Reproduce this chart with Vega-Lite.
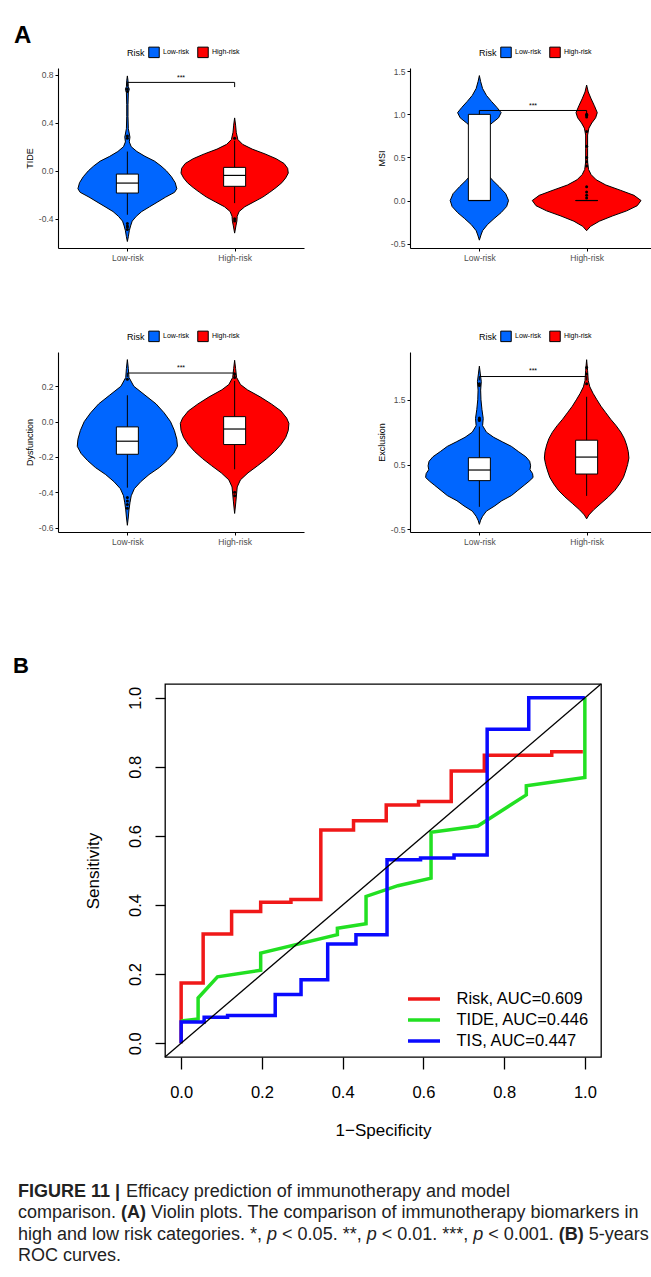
{
 "$schema": "https://vega.github.io/schema/vega-lite/v6.json",
 "autosize": {"type": "pad"},
 "padding": {"left": 12, "top": 24, "right": 0, "bottom": 0},
 "background": "white",
 "config": {
  "view": {"stroke": null},
  "font": "Liberation Sans",
  "axis": {"grid": false, "domainColor": "black", "domainWidth": 1.1, "tickColor": "black", "tickWidth": 1, "tickSize": 3, "labelColor": "#4D4D4D", "labelFontSize": 8.5, "labelPadding": 2, "titleColor": "black", "titleFontWeight": "normal", "titleFontSize": 9, "titlePadding": 4},
  "text": {"font": "Liberation Sans"}
 },
 "datasets": {
  "tideV": [
   {"g":"Low-risk","y":0.79,"lo":1,"hi":1},{"g":"Low-risk","y":0.75,"lo":0.994,"hi":1.006},{"g":"Low-risk","y":0.70,"lo":0.991,"hi":1.009},{"g":"Low-risk","y":0.68,"lo":0.982,"hi":1.018},{"g":"Low-risk","y":0.65,"lo":0.991,"hi":1.009},{"g":"Low-risk","y":0.55,"lo":0.994,"hi":1.006},{"g":"Low-risk","y":0.45,"lo":0.994,"hi":1.006},{"g":"Low-risk","y":0.35,"lo":0.991,"hi":1.009},{"g":"Low-risk","y":0.28,"lo":0.976,"hi":1.024},{"g":"Low-risk","y":0.24,"lo":0.982,"hi":1.018},{"g":"Low-risk","y":0.20,"lo":0.964,"hi":1.036},{"g":"Low-risk","y":0.16,"lo":0.911,"hi":1.089},{"g":"Low-risk","y":0.12,"lo":0.836,"hi":1.164},{"g":"Low-risk","y":0.08,"lo":0.747,"hi":1.253},{"g":"Low-risk","y":0.04,"lo":0.687,"hi":1.313},{"g":"Low-risk","y":0.0,"lo":0.637,"hi":1.363},{"g":"Low-risk","y":-0.05,"lo":0.589,"hi":1.411},{"g":"Low-risk","y":-0.10,"lo":0.554,"hi":1.446},{"g":"Low-risk","y":-0.15,"lo":0.539,"hi":1.461},{"g":"Low-risk","y":-0.18,"lo":0.560,"hi":1.440},{"g":"Low-risk","y":-0.22,"lo":0.643,"hi":1.357},{"g":"Low-risk","y":-0.26,"lo":0.717,"hi":1.283},{"g":"Low-risk","y":-0.30,"lo":0.792,"hi":1.208},{"g":"Low-risk","y":-0.34,"lo":0.866,"hi":1.134},{"g":"Low-risk","y":-0.38,"lo":0.917,"hi":1.083},{"g":"Low-risk","y":-0.42,"lo":0.955,"hi":1.045},{"g":"Low-risk","y":-0.46,"lo":0.970,"hi":1.030},{"g":"Low-risk","y":-0.50,"lo":0.982,"hi":1.018},{"g":"Low-risk","y":-0.55,"lo":0.991,"hi":1.009},{"g":"Low-risk","y":-0.59,"lo":1,"hi":1},
   {"g":"High-risk","y":0.44,"lo":2,"hi":2},{"g":"High-risk","y":0.38,"lo":1.991,"hi":2.009},{"g":"High-risk","y":0.32,"lo":1.985,"hi":2.015},{"g":"High-risk","y":0.26,"lo":1.970,"hi":2.030},{"g":"High-risk","y":0.22,"lo":1.926,"hi":2.074},{"g":"High-risk","y":0.18,"lo":1.836,"hi":2.164},{"g":"High-risk","y":0.14,"lo":1.717,"hi":2.283},{"g":"High-risk","y":0.10,"lo":1.613,"hi":2.387},{"g":"High-risk","y":0.06,"lo":1.539,"hi":2.461},{"g":"High-risk","y":0.02,"lo":1.506,"hi":2.494},{"g":"High-risk","y":-0.02,"lo":1.500,"hi":2.500},{"g":"High-risk","y":-0.06,"lo":1.524,"hi":2.476},{"g":"High-risk","y":-0.10,"lo":1.560,"hi":2.440},{"g":"High-risk","y":-0.14,"lo":1.613,"hi":2.387},{"g":"High-risk","y":-0.18,"lo":1.673,"hi":2.327},{"g":"High-risk","y":-0.22,"lo":1.738,"hi":2.262},{"g":"High-risk","y":-0.26,"lo":1.821,"hi":2.179},{"g":"High-risk","y":-0.30,"lo":1.905,"hi":2.095},{"g":"High-risk","y":-0.34,"lo":1.958,"hi":2.042},{"g":"High-risk","y":-0.38,"lo":1.976,"hi":2.024},{"g":"High-risk","y":-0.42,"lo":1.979,"hi":2.021},{"g":"High-risk","y":-0.46,"lo":1.988,"hi":2.012},{"g":"High-risk","y":-0.52,"lo":2,"hi":2}
  ],
  "tideB": [{"cat":1,"q1":-0.186,"med":-0.103,"q3":-0.028,"lo":-0.367,"hi":0.16},{"cat":2,"q1":-0.13,"med":-0.039,"q3":0.028,"lo":-0.27,"hi":0.25}],
  "tideO": [{"cat":1,"y":0.27},{"cat":1,"y":0.29},{"cat":1,"y":0.66},{"cat":1,"y":0.68},{"cat":1,"y":-0.44},{"cat":1,"y":-0.46},{"cat":1,"y":-0.47},{"cat":1,"y":-0.49},{"cat":2,"y":-0.40},{"cat":2,"y":-0.42},{"cat":2,"y":0.27}],
  "tideS": [{"x1":1,"x2":2,"y1":0.736,"y2":0.736},{"x1":1,"x2":1,"y1":0.736,"y2":0.70},{"x1":2,"x2":2,"y1":0.736,"y2":0.697}],
  "tideT": [{"x":1.5,"y":0.775,"t":"***"}],
  "msiV": [
   {"g":"Low-risk","y":1.45,"lo":1,"hi":1},{"g":"Low-risk","y":1.38,"lo":0.988,"hi":1.012},{"g":"Low-risk","y":1.30,"lo":0.970,"hi":1.030},{"g":"Low-risk","y":1.22,"lo":0.934,"hi":1.066},{"g":"Low-risk","y":1.15,"lo":0.887,"hi":1.113},{"g":"Low-risk","y":1.08,"lo":0.836,"hi":1.164},{"g":"Low-risk","y":1.02,"lo":0.797,"hi":1.203},{"g":"Low-risk","y":0.96,"lo":0.821,"hi":1.179},{"g":"Low-risk","y":0.90,"lo":0.881,"hi":1.119},{"g":"Low-risk","y":0.84,"lo":0.934,"hi":1.066},{"g":"Low-risk","y":0.78,"lo":0.964,"hi":1.036},{"g":"Low-risk","y":0.70,"lo":0.976,"hi":1.024},{"g":"Low-risk","y":0.60,"lo":0.982,"hi":1.018},{"g":"Low-risk","y":0.50,"lo":0.982,"hi":1.018},{"g":"Low-risk","y":0.40,"lo":0.970,"hi":1.030},{"g":"Low-risk","y":0.32,"lo":0.934,"hi":1.066},{"g":"Low-risk","y":0.24,"lo":0.881,"hi":1.119},{"g":"Low-risk","y":0.16,"lo":0.815,"hi":1.185},{"g":"Low-risk","y":0.08,"lo":0.755,"hi":1.245},{"g":"Low-risk","y":0.0,"lo":0.728,"hi":1.272},{"g":"Low-risk","y":-0.07,"lo":0.746,"hi":1.254},{"g":"Low-risk","y":-0.14,"lo":0.797,"hi":1.203},{"g":"Low-risk","y":-0.21,"lo":0.863,"hi":1.137},{"g":"Low-risk","y":-0.28,"lo":0.925,"hi":1.075},{"g":"Low-risk","y":-0.35,"lo":0.970,"hi":1.030},{"g":"Low-risk","y":-0.40,"lo":0.985,"hi":1.015},{"g":"Low-risk","y":-0.46,"lo":1,"hi":1},
   {"g":"High-risk","y":1.34,"lo":2,"hi":2},{"g":"High-risk","y":1.26,"lo":1.985,"hi":2.015},{"g":"High-risk","y":1.18,"lo":1.958,"hi":2.042},{"g":"High-risk","y":1.10,"lo":1.928,"hi":2.072},{"g":"High-risk","y":1.02,"lo":1.901,"hi":2.099},{"g":"High-risk","y":0.96,"lo":1.916,"hi":2.084},{"g":"High-risk","y":0.90,"lo":1.952,"hi":2.048},{"g":"High-risk","y":0.84,"lo":1.979,"hi":2.021},{"g":"High-risk","y":0.76,"lo":1.991,"hi":2.009},{"g":"High-risk","y":0.60,"lo":1.991,"hi":2.009},{"g":"High-risk","y":0.45,"lo":1.991,"hi":2.009},{"g":"High-risk","y":0.36,"lo":1.982,"hi":2.018},{"g":"High-risk","y":0.30,"lo":1.958,"hi":2.042},{"g":"High-risk","y":0.24,"lo":1.910,"hi":2.090},{"g":"High-risk","y":0.18,"lo":1.821,"hi":2.179},{"g":"High-risk","y":0.12,"lo":1.687,"hi":2.313},{"g":"High-risk","y":0.06,"lo":1.558,"hi":2.442},{"g":"High-risk","y":0.0,"lo":1.493,"hi":2.507},{"g":"High-risk","y":-0.06,"lo":1.528,"hi":2.472},{"g":"High-risk","y":-0.12,"lo":1.627,"hi":2.373},{"g":"High-risk","y":-0.18,"lo":1.761,"hi":2.239},{"g":"High-risk","y":-0.24,"lo":1.881,"hi":2.119},{"g":"High-risk","y":-0.30,"lo":1.964,"hi":2.036},{"g":"High-risk","y":-0.35,"lo":2,"hi":2}
  ],
  "msiB": [{"cat":1,"q1":0,"med":0,"q3":1,"lo":0,"hi":1},{"cat":2,"q1":0,"med":0,"q3":0,"lo":0,"hi":0}],
  "msiO": [{"cat":2,"y":1.0},{"cat":2,"y":0.99},{"cat":2,"y":0.97},{"cat":2,"y":0.8},{"cat":2,"y":0.63},{"cat":2,"y":0.5},{"cat":2,"y":0.45},{"cat":2,"y":0.4},{"cat":2,"y":0.16},{"cat":2,"y":0.1},{"cat":2,"y":0.06},{"cat":2,"y":0.03}],
  "msiS": [{"x1":1,"x2":2,"y1":1.045,"y2":1.045},{"x1":1,"x2":1,"y1":1.045,"y2":1.0},{"x1":2,"x2":2,"y1":1.045,"y2":1.0}],
  "msiT": [{"x":1.5,"y":1.1,"t":"***"}],
  "dysV": [
   {"g":"Low-risk","y":0.351,"lo":1,"hi":1},{"g":"Low-risk","y":0.30,"lo":0.991,"hi":1.009},{"g":"Low-risk","y":0.25,"lo":0.985,"hi":1.015},{"g":"Low-risk","y":0.20,"lo":0.940,"hi":1.060},{"g":"Low-risk","y":0.15,"lo":0.836,"hi":1.164},{"g":"Low-risk","y":0.10,"lo":0.732,"hi":1.268},{"g":"Low-risk","y":0.05,"lo":0.658,"hi":1.342},{"g":"Low-risk","y":0.0,"lo":0.598,"hi":1.402},{"g":"Low-risk","y":-0.05,"lo":0.562,"hi":1.438},{"g":"Low-risk","y":-0.10,"lo":0.539,"hi":1.461},{"g":"Low-risk","y":-0.14,"lo":0.533,"hi":1.467},{"g":"Low-risk","y":-0.18,"lo":0.568,"hi":1.432},{"g":"Low-risk","y":-0.22,"lo":0.628,"hi":1.372},{"g":"Low-risk","y":-0.26,"lo":0.702,"hi":1.298},{"g":"Low-risk","y":-0.30,"lo":0.798,"hi":1.202},{"g":"Low-risk","y":-0.34,"lo":0.875,"hi":1.125},{"g":"Low-risk","y":-0.38,"lo":0.935,"hi":1.065},{"g":"Low-risk","y":-0.42,"lo":0.964,"hi":1.036},{"g":"Low-risk","y":-0.46,"lo":0.976,"hi":1.024},{"g":"Low-risk","y":-0.50,"lo":0.985,"hi":1.015},{"g":"Low-risk","y":-0.54,"lo":0.991,"hi":1.009},{"g":"Low-risk","y":-0.587,"lo":1,"hi":1},
   {"g":"High-risk","y":0.347,"lo":2,"hi":2},{"g":"High-risk","y":0.30,"lo":1.991,"hi":2.009},{"g":"High-risk","y":0.25,"lo":1.982,"hi":2.018},{"g":"High-risk","y":0.21,"lo":1.946,"hi":2.054},{"g":"High-risk","y":0.18,"lo":1.881,"hi":2.119},{"g":"High-risk","y":0.14,"lo":1.762,"hi":2.238},{"g":"High-risk","y":0.10,"lo":1.658,"hi":2.342},{"g":"High-risk","y":0.06,"lo":1.568,"hi":2.432},{"g":"High-risk","y":0.02,"lo":1.515,"hi":2.485},{"g":"High-risk","y":-0.01,"lo":1.494,"hi":2.506},{"g":"High-risk","y":-0.05,"lo":1.500,"hi":2.500},{"g":"High-risk","y":-0.09,"lo":1.524,"hi":2.476},{"g":"High-risk","y":-0.13,"lo":1.568,"hi":2.432},{"g":"High-risk","y":-0.17,"lo":1.628,"hi":2.372},{"g":"High-risk","y":-0.21,"lo":1.702,"hi":2.298},{"g":"High-risk","y":-0.25,"lo":1.786,"hi":2.214},{"g":"High-risk","y":-0.29,"lo":1.875,"hi":2.125},{"g":"High-risk","y":-0.33,"lo":1.946,"hi":2.054},{"g":"High-risk","y":-0.37,"lo":1.976,"hi":2.024},{"g":"High-risk","y":-0.41,"lo":1.982,"hi":2.018},{"g":"High-risk","y":-0.45,"lo":1.988,"hi":2.012},{"g":"High-risk","y":-0.52,"lo":2,"hi":2}
  ],
  "dysB": [{"cat":1,"q1":-0.185,"med":-0.111,"q3":-0.03,"lo":-0.374,"hi":0.149},{"cat":2,"q1":-0.13,"med":-0.042,"q3":0.028,"lo":-0.27,"hi":0.23}],
  "dysO": [{"cat":1,"y":-0.43},{"cat":1,"y":-0.45},{"cat":1,"y":-0.47},{"cat":1,"y":-0.49},{"cat":1,"y":0.24},{"cat":2,"y":-0.40},{"cat":2,"y":-0.42},{"cat":2,"y":0.25},{"cat":2,"y":0.27}],
  "dysS": [{"x1":1,"x2":2,"y1":0.275,"y2":0.275},{"x1":1,"x2":1,"y1":0.275,"y2":0.253},{"x1":2,"x2":2,"y1":0.275,"y2":0.253}],
  "dysT": [{"x":1.5,"y":0.302,"t":"***"}],
  "excV": [
   {"g":"Low-risk","y":2.02,"lo":1,"hi":1},{"g":"Low-risk","y":1.90,"lo":0.991,"hi":1.009},{"g":"Low-risk","y":1.78,"lo":0.982,"hi":1.018},{"g":"Low-risk","y":1.65,"lo":0.988,"hi":1.012},{"g":"Low-risk","y":1.50,"lo":0.985,"hi":1.015},{"g":"Low-risk","y":1.35,"lo":0.976,"hi":1.024},{"g":"Low-risk","y":1.21,"lo":0.964,"hi":1.036},{"g":"Low-risk","y":1.10,"lo":0.970,"hi":1.030},{"g":"Low-risk","y":1.00,"lo":0.934,"hi":1.066},{"g":"Low-risk","y":0.92,"lo":0.866,"hi":1.134},{"g":"Low-risk","y":0.85,"lo":0.785,"hi":1.215},{"g":"Low-risk","y":0.78,"lo":0.701,"hi":1.299},{"g":"Low-risk","y":0.70,"lo":0.636,"hi":1.364},{"g":"Low-risk","y":0.62,"lo":0.567,"hi":1.433},{"g":"Low-risk","y":0.55,"lo":0.531,"hi":1.469},{"g":"Low-risk","y":0.48,"lo":0.522,"hi":1.478},{"g":"Low-risk","y":0.42,"lo":0.528,"hi":1.472},{"g":"Low-risk","y":0.36,"lo":0.504,"hi":1.496},{"g":"Low-risk","y":0.30,"lo":0.499,"hi":1.501},{"g":"Low-risk","y":0.24,"lo":0.537,"hi":1.463},{"g":"Low-risk","y":0.18,"lo":0.582,"hi":1.418},{"g":"Low-risk","y":0.10,"lo":0.642,"hi":1.358},{"g":"Low-risk","y":0.02,"lo":0.701,"hi":1.299},{"g":"Low-risk","y":-0.06,"lo":0.791,"hi":1.209},{"g":"Low-risk","y":-0.14,"lo":0.857,"hi":1.143},{"g":"Low-risk","y":-0.22,"lo":0.934,"hi":1.066},{"g":"Low-risk","y":-0.30,"lo":0.970,"hi":1.030},{"g":"Low-risk","y":-0.36,"lo":0.988,"hi":1.012},{"g":"Low-risk","y":-0.425,"lo":1,"hi":1},
   {"g":"High-risk","y":2.12,"lo":2,"hi":2},{"g":"High-risk","y":1.95,"lo":1.991,"hi":2.009},{"g":"High-risk","y":1.80,"lo":1.985,"hi":2.015},{"g":"High-risk","y":1.70,"lo":1.970,"hi":2.030},{"g":"High-risk","y":1.60,"lo":1.940,"hi":2.060},{"g":"High-risk","y":1.50,"lo":1.904,"hi":2.096},{"g":"High-risk","y":1.40,"lo":1.866,"hi":2.134},{"g":"High-risk","y":1.30,"lo":1.821,"hi":2.179},{"g":"High-risk","y":1.20,"lo":1.776,"hi":2.224},{"g":"High-risk","y":1.10,"lo":1.725,"hi":2.275},{"g":"High-risk","y":1.00,"lo":1.681,"hi":2.319},{"g":"High-risk","y":0.90,"lo":1.648,"hi":2.352},{"g":"High-risk","y":0.80,"lo":1.627,"hi":2.373},{"g":"High-risk","y":0.70,"lo":1.612,"hi":2.388},{"g":"High-risk","y":0.60,"lo":1.606,"hi":2.394},{"g":"High-risk","y":0.50,"lo":1.618,"hi":2.382},{"g":"High-risk","y":0.40,"lo":1.636,"hi":2.364},{"g":"High-risk","y":0.30,"lo":1.657,"hi":2.343},{"g":"High-risk","y":0.20,"lo":1.693,"hi":2.307},{"g":"High-risk","y":0.10,"lo":1.737,"hi":2.263},{"g":"High-risk","y":0.0,"lo":1.797,"hi":2.203},{"g":"High-risk","y":-0.10,"lo":1.866,"hi":2.134},{"g":"High-risk","y":-0.20,"lo":1.934,"hi":2.066},{"g":"High-risk","y":-0.28,"lo":1.979,"hi":2.021},{"g":"High-risk","y":-0.34,"lo":2,"hi":2}
  ],
  "excB": [{"cat":1,"q1":0.251,"med":0.415,"q3":0.605,"lo":-0.154,"hi":1.086},{"cat":2,"q1":0.353,"med":0.615,"q3":0.876,"lo":0.015,"hi":1.547}],
  "excO": [{"cat":1,"y":1.18},{"cat":1,"y":1.2},{"cat":1,"y":1.22},{"cat":1,"y":1.72},{"cat":1,"y":1.75},{"cat":2,"y":1.75},{"cat":2,"y":1.9},{"cat":2,"y":2.0}],
  "excS": [{"x1":1,"x2":2,"y1":1.86,"y2":1.86},{"x1":1,"x2":1,"y1":1.86,"y2":1.80},{"x1":2,"x2":2,"y1":1.86,"y2":1.80}],
  "excT": [{"x":1.5,"y":1.95,"t":"***"}],
  "roc": [
   {"m":"Risk, AUC=0.609","i":0,"fpr":0,"tpr":0},{"m":"Risk, AUC=0.609","i":1,"fpr":0,"tpr":0.174},{"m":"Risk, AUC=0.609","i":2,"fpr":0.0545,"tpr":0.174},{"m":"Risk, AUC=0.609","i":3,"fpr":0.0545,"tpr":0.316},{"m":"Risk, AUC=0.609","i":4,"fpr":0.125,"tpr":0.316},{"m":"Risk, AUC=0.609","i":5,"fpr":0.125,"tpr":0.381},{"m":"Risk, AUC=0.609","i":6,"fpr":0.197,"tpr":0.381},{"m":"Risk, AUC=0.609","i":7,"fpr":0.197,"tpr":0.408},{"m":"Risk, AUC=0.609","i":8,"fpr":0.272,"tpr":0.408},{"m":"Risk, AUC=0.609","i":9,"fpr":0.272,"tpr":0.416},{"m":"Risk, AUC=0.609","i":10,"fpr":0.346,"tpr":0.416},{"m":"Risk, AUC=0.609","i":11,"fpr":0.346,"tpr":0.617},{"m":"Risk, AUC=0.609","i":12,"fpr":0.427,"tpr":0.617},{"m":"Risk, AUC=0.609","i":13,"fpr":0.427,"tpr":0.644},{"m":"Risk, AUC=0.609","i":14,"fpr":0.508,"tpr":0.644},{"m":"Risk, AUC=0.609","i":15,"fpr":0.508,"tpr":0.690},{"m":"Risk, AUC=0.609","i":16,"fpr":0.588,"tpr":0.690},{"m":"Risk, AUC=0.609","i":17,"fpr":0.588,"tpr":0.700},{"m":"Risk, AUC=0.609","i":18,"fpr":0.669,"tpr":0.700},{"m":"Risk, AUC=0.609","i":19,"fpr":0.669,"tpr":0.788},{"m":"Risk, AUC=0.609","i":20,"fpr":0.751,"tpr":0.788},{"m":"Risk, AUC=0.609","i":21,"fpr":0.751,"tpr":0.834},{"m":"Risk, AUC=0.609","i":22,"fpr":0.918,"tpr":0.834},{"m":"Risk, AUC=0.609","i":23,"fpr":0.918,"tpr":0.844},{"m":"Risk, AUC=0.609","i":24,"fpr":0.995,"tpr":0.844},
   {"m":"TIDE, AUC=0.446","i":0,"fpr":0,"tpr":0.064},{"m":"TIDE, AUC=0.446","i":1,"fpr":0.042,"tpr":0.07},{"m":"TIDE, AUC=0.446","i":2,"fpr":0.042,"tpr":0.131},{"m":"TIDE, AUC=0.446","i":3,"fpr":0.09,"tpr":0.192},{"m":"TIDE, AUC=0.446","i":4,"fpr":0.197,"tpr":0.211},{"m":"TIDE, AUC=0.446","i":5,"fpr":0.197,"tpr":0.261},{"m":"TIDE, AUC=0.446","i":6,"fpr":0.387,"tpr":0.314},{"m":"TIDE, AUC=0.446","i":7,"fpr":0.387,"tpr":0.333},{"m":"TIDE, AUC=0.446","i":8,"fpr":0.458,"tpr":0.346},{"m":"TIDE, AUC=0.446","i":9,"fpr":0.458,"tpr":0.425},{"m":"TIDE, AUC=0.446","i":10,"fpr":0.537,"tpr":0.456},{"m":"TIDE, AUC=0.446","i":11,"fpr":0.619,"tpr":0.478},{"m":"TIDE, AUC=0.446","i":12,"fpr":0.619,"tpr":0.611},{"m":"TIDE, AUC=0.446","i":13,"fpr":0.735,"tpr":0.629},{"m":"TIDE, AUC=0.446","i":14,"fpr":0.855,"tpr":0.719},{"m":"TIDE, AUC=0.446","i":15,"fpr":0.855,"tpr":0.745},{"m":"TIDE, AUC=0.446","i":16,"fpr":1.0,"tpr":0.769},{"m":"TIDE, AUC=0.446","i":17,"fpr":1.0,"tpr":1.0},
   {"m":"TIS, AUC=0.447","i":0,"fpr":0,"tpr":0},{"m":"TIS, AUC=0.447","i":1,"fpr":0,"tpr":0.061},{"m":"TIS, AUC=0.447","i":2,"fpr":0.057,"tpr":0.061},{"m":"TIS, AUC=0.447","i":3,"fpr":0.057,"tpr":0.075},{"m":"TIS, AUC=0.447","i":4,"fpr":0.115,"tpr":0.075},{"m":"TIS, AUC=0.447","i":5,"fpr":0.115,"tpr":0.08},{"m":"TIS, AUC=0.447","i":6,"fpr":0.233,"tpr":0.08},{"m":"TIS, AUC=0.447","i":7,"fpr":0.233,"tpr":0.141},{"m":"TIS, AUC=0.447","i":8,"fpr":0.297,"tpr":0.141},{"m":"TIS, AUC=0.447","i":9,"fpr":0.297,"tpr":0.184},{"m":"TIS, AUC=0.447","i":10,"fpr":0.363,"tpr":0.184},{"m":"TIS, AUC=0.447","i":11,"fpr":0.363,"tpr":0.287},{"m":"TIS, AUC=0.447","i":12,"fpr":0.433,"tpr":0.287},{"m":"TIS, AUC=0.447","i":13,"fpr":0.433,"tpr":0.314},{"m":"TIS, AUC=0.447","i":14,"fpr":0.51,"tpr":0.314},{"m":"TIS, AUC=0.447","i":15,"fpr":0.51,"tpr":0.531},{"m":"TIS, AUC=0.447","i":16,"fpr":0.593,"tpr":0.531},{"m":"TIS, AUC=0.447","i":17,"fpr":0.593,"tpr":0.536},{"m":"TIS, AUC=0.447","i":18,"fpr":0.676,"tpr":0.536},{"m":"TIS, AUC=0.447","i":19,"fpr":0.676,"tpr":0.545},{"m":"TIS, AUC=0.447","i":20,"fpr":0.758,"tpr":0.545},{"m":"TIS, AUC=0.447","i":21,"fpr":0.758,"tpr":0.909},{"m":"TIS, AUC=0.447","i":22,"fpr":0.861,"tpr":0.909},{"m":"TIS, AUC=0.447","i":23,"fpr":0.861,"tpr":1.0},{"m":"TIS, AUC=0.447","i":24,"fpr":1.0,"tpr":1.0}
  ]
 },
 "spacing": 43,
 "resolve": {"scale": {"x": "independent", "y": "independent", "fill": "independent", "color": "independent"}},
 "vconcat": [
  {
   "spacing": 108,
   "resolve": {"scale": {"x": "independent", "y": "independent", "fill": "independent", "color": "independent"}},
   "vconcat": [
    {
     "columns": 2,
     "bounds": "flush",
     "spacing": {"row": 104, "column": 106},
     "title": {"text": "A", "anchor": "start", "frame": "group", "dx": -44, "offset": -2, "fontSize": 24, "fontWeight": "bold", "color": "black"},
     "resolve": {"scale": {"x": "independent", "y": "independent", "fill": "independent"}, "legend": {"fill": "independent"}},
     "concat": [
      {
       "width": 246, "height": 180,
       "layer": [
        {"data": {"name": "tideV"}, "mark": {"type": "area", "orient": "horizontal", "stroke": "black", "strokeWidth": 1, "opacity": 1},
         "encoding": {
          "y": {"field": "y", "type": "quantitative", "scale": {"domain": [-0.644, 0.856], "nice": false, "zero": false}, "axis": {"title": "TIDE", "values": [-0.4, 0, 0.4, 0.8], "labelExpr": "replace(format(datum.value, '.1f'), '\u2212', '-')"}},
          "x": {"field": "lo", "type": "quantitative", "scale": {"domain": [0.4, 2.6], "nice": false, "zero": false}, "axis": {"title": null, "values": [1, 2], "labelExpr": "datum.value == 1 ? 'Low-risk' : 'High-risk'"}},
          "x2": {"field": "hi"},
          "fill": {"field": "g", "type": "nominal", "scale": {"domain": ["Low-risk", "High-risk"], "range": ["#0066FF", "#FF0000"]}, "legend": {"title": "Risk", "orient": "none", "legendX": 69, "legendY": -22, "direction": "horizontal", "titleOrient": "left", "titleFontSize": 9, "titleFontWeight": "normal", "titleColor": "black", "titlePadding": 3, "labelFontSize": 7, "labelColor": "black", "labelOffset": 3, "columnPadding": 5, "symbolType": "square", "symbolSize": 110, "symbolStrokeColor": "black", "symbolStrokeWidth": 1}}
         }},
        {"data": {"name": "tideB"}, "mark": {"type": "rule", "color": "black", "strokeWidth": 1}, "encoding": {"x": {"field": "cat", "type": "quantitative"}, "y": {"field": "lo", "type": "quantitative"}, "y2": {"field": "hi"}}},
        {"data": {"name": "tideB"}, "mark": {"type": "bar", "width": 22, "fill": "white", "stroke": "black", "strokeWidth": 1}, "encoding": {"x": {"field": "cat", "type": "quantitative"}, "y": {"field": "q1", "type": "quantitative"}, "y2": {"field": "q3"}}},
        {"data": {"name": "tideB"}, "mark": {"type": "tick", "orient": "horizontal", "size": 22, "thickness": 1.2, "color": "black", "opacity": 1}, "encoding": {"x": {"field": "cat", "type": "quantitative"}, "y": {"field": "med", "type": "quantitative"}}},
        {"data": {"name": "tideO"}, "mark": {"type": "circle", "size": 9, "color": "black", "opacity": 1}, "encoding": {"x": {"field": "cat", "type": "quantitative"}, "y": {"field": "y", "type": "quantitative"}}},
        {"data": {"name": "tideS"}, "mark": {"type": "rule", "color": "black", "strokeWidth": 1}, "encoding": {"x": {"field": "x1", "type": "quantitative"}, "x2": {"field": "x2"}, "y": {"field": "y1", "type": "quantitative"}, "y2": {"field": "y2"}}},
        {"data": {"name": "tideT"}, "mark": {"type": "text", "fontSize": 7, "color": "black"}, "encoding": {"x": {"field": "x", "type": "quantitative"}, "y": {"field": "y", "type": "quantitative"}, "text": {"field": "t"}}}
       ]
      },
      {
       "width": 246, "height": 180,
       "layer": [
        {"data": {"name": "msiV"}, "mark": {"type": "area", "orient": "horizontal", "stroke": "black", "strokeWidth": 1, "opacity": 1},
         "encoding": {
          "y": {"field": "y", "type": "quantitative", "scale": {"domain": [-0.551, 1.538], "nice": false, "zero": false}, "axis": {"title": "MSI", "values": [-0.5, 0, 0.5, 1, 1.5], "labelExpr": "replace(format(datum.value, '.1f'), '\u2212', '-')"}},
          "x": {"field": "lo", "type": "quantitative", "scale": {"domain": [0.4, 2.6], "nice": false, "zero": false}, "axis": {"title": null, "values": [1, 2], "labelExpr": "datum.value == 1 ? 'Low-risk' : 'High-risk'"}},
          "x2": {"field": "hi"},
          "fill": {"field": "g", "type": "nominal", "scale": {"domain": ["Low-risk", "High-risk"], "range": ["#0066FF", "#FF0000"]}, "legend": {"title": "Risk", "orient": "none", "legendX": 69, "legendY": -22, "direction": "horizontal", "titleOrient": "left", "titleFontSize": 9, "titleFontWeight": "normal", "titleColor": "black", "titlePadding": 3, "labelFontSize": 7, "labelColor": "black", "labelOffset": 3, "columnPadding": 5, "symbolType": "square", "symbolSize": 110, "symbolStrokeColor": "black", "symbolStrokeWidth": 1}}
         }},
        {"data": {"name": "msiB"}, "mark": {"type": "rule", "color": "black", "strokeWidth": 1}, "encoding": {"x": {"field": "cat", "type": "quantitative"}, "y": {"field": "lo", "type": "quantitative"}, "y2": {"field": "hi"}}},
        {"data": {"name": "msiB"}, "mark": {"type": "bar", "width": 22, "fill": "white", "stroke": "black", "strokeWidth": 1}, "encoding": {"x": {"field": "cat", "type": "quantitative"}, "y": {"field": "q1", "type": "quantitative"}, "y2": {"field": "q3"}}},
        {"data": {"name": "msiB"}, "mark": {"type": "tick", "orient": "horizontal", "size": 22, "thickness": 1.2, "color": "black", "opacity": 1}, "encoding": {"x": {"field": "cat", "type": "quantitative"}, "y": {"field": "med", "type": "quantitative"}}},
        {"data": {"name": "msiO"}, "mark": {"type": "circle", "size": 9, "color": "black", "opacity": 1}, "encoding": {"x": {"field": "cat", "type": "quantitative"}, "y": {"field": "y", "type": "quantitative"}}},
        {"data": {"name": "msiS"}, "mark": {"type": "rule", "color": "black", "strokeWidth": 1}, "encoding": {"x": {"field": "x1", "type": "quantitative"}, "x2": {"field": "x2"}, "y": {"field": "y1", "type": "quantitative"}, "y2": {"field": "y2"}}},
        {"data": {"name": "msiT"}, "mark": {"type": "text", "fontSize": 7, "color": "black"}, "encoding": {"x": {"field": "x", "type": "quantitative"}, "y": {"field": "y", "type": "quantitative"}, "text": {"field": "t"}}}
       ]
      },
      {
       "width": 246, "height": 180,
       "layer": [
        {"data": {"name": "dysV"}, "mark": {"type": "area", "orient": "horizontal", "stroke": "black", "strokeWidth": 1, "opacity": 1},
         "encoding": {
          "y": {"field": "y", "type": "quantitative", "scale": {"domain": [-0.625, 0.394], "nice": false, "zero": false}, "axis": {"title": "Dysfunction", "values": [-0.6, -0.4, -0.2, 0, 0.2], "labelExpr": "replace(format(datum.value, '.1f'), '\u2212', '-')"}},
          "x": {"field": "lo", "type": "quantitative", "scale": {"domain": [0.4, 2.6], "nice": false, "zero": false}, "axis": {"title": null, "values": [1, 2], "labelExpr": "datum.value == 1 ? 'Low-risk' : 'High-risk'"}},
          "x2": {"field": "hi"},
          "fill": {"field": "g", "type": "nominal", "scale": {"domain": ["Low-risk", "High-risk"], "range": ["#0066FF", "#FF0000"]}, "legend": {"title": "Risk", "orient": "none", "legendX": 69, "legendY": -22, "direction": "horizontal", "titleOrient": "left", "titleFontSize": 9, "titleFontWeight": "normal", "titleColor": "black", "titlePadding": 3, "labelFontSize": 7, "labelColor": "black", "labelOffset": 3, "columnPadding": 5, "symbolType": "square", "symbolSize": 110, "symbolStrokeColor": "black", "symbolStrokeWidth": 1}}
         }},
        {"data": {"name": "dysB"}, "mark": {"type": "rule", "color": "black", "strokeWidth": 1}, "encoding": {"x": {"field": "cat", "type": "quantitative"}, "y": {"field": "lo", "type": "quantitative"}, "y2": {"field": "hi"}}},
        {"data": {"name": "dysB"}, "mark": {"type": "bar", "width": 22, "fill": "white", "stroke": "black", "strokeWidth": 1}, "encoding": {"x": {"field": "cat", "type": "quantitative"}, "y": {"field": "q1", "type": "quantitative"}, "y2": {"field": "q3"}}},
        {"data": {"name": "dysB"}, "mark": {"type": "tick", "orient": "horizontal", "size": 22, "thickness": 1.2, "color": "black", "opacity": 1}, "encoding": {"x": {"field": "cat", "type": "quantitative"}, "y": {"field": "med", "type": "quantitative"}}},
        {"data": {"name": "dysO"}, "mark": {"type": "circle", "size": 9, "color": "black", "opacity": 1}, "encoding": {"x": {"field": "cat", "type": "quantitative"}, "y": {"field": "y", "type": "quantitative"}}},
        {"data": {"name": "dysS"}, "mark": {"type": "rule", "color": "black", "strokeWidth": 1}, "encoding": {"x": {"field": "x1", "type": "quantitative"}, "x2": {"field": "x2"}, "y": {"field": "y1", "type": "quantitative"}, "y2": {"field": "y2"}}},
        {"data": {"name": "dysT"}, "mark": {"type": "text", "fontSize": 7, "color": "black"}, "encoding": {"x": {"field": "x", "type": "quantitative"}, "y": {"field": "y", "type": "quantitative"}, "text": {"field": "t"}}}
       ]
      },
      {
       "width": 246, "height": 180,
       "layer": [
        {"data": {"name": "excV"}, "mark": {"type": "area", "orient": "horizontal", "stroke": "black", "strokeWidth": 1, "opacity": 1},
         "encoding": {
          "y": {"field": "y", "type": "quantitative", "scale": {"domain": [-0.543, 2.239], "nice": false, "zero": false}, "axis": {"title": "Exclusion", "values": [-0.5, 0, 0.5, 1, 1.5, 2], "labelExpr": "replace(format(datum.value, '.1f'), '\u2212', '-')"}},
          "x": {"field": "lo", "type": "quantitative", "scale": {"domain": [0.4, 2.6], "nice": false, "zero": false}, "axis": {"title": null, "values": [1, 2], "labelExpr": "datum.value == 1 ? 'Low-risk' : 'High-risk'"}},
          "x2": {"field": "hi"},
          "fill": {"field": "g", "type": "nominal", "scale": {"domain": ["Low-risk", "High-risk"], "range": ["#0066FF", "#FF0000"]}, "legend": {"title": "Risk", "orient": "none", "legendX": 69, "legendY": -22, "direction": "horizontal", "titleOrient": "left", "titleFontSize": 9, "titleFontWeight": "normal", "titleColor": "black", "titlePadding": 3, "labelFontSize": 7, "labelColor": "black", "labelOffset": 3, "columnPadding": 5, "symbolType": "square", "symbolSize": 110, "symbolStrokeColor": "black", "symbolStrokeWidth": 1}}
         }},
        {"data": {"name": "excB"}, "mark": {"type": "rule", "color": "black", "strokeWidth": 1}, "encoding": {"x": {"field": "cat", "type": "quantitative"}, "y": {"field": "lo", "type": "quantitative"}, "y2": {"field": "hi"}}},
        {"data": {"name": "excB"}, "mark": {"type": "bar", "width": 22, "fill": "white", "stroke": "black", "strokeWidth": 1}, "encoding": {"x": {"field": "cat", "type": "quantitative"}, "y": {"field": "q1", "type": "quantitative"}, "y2": {"field": "q3"}}},
        {"data": {"name": "excB"}, "mark": {"type": "tick", "orient": "horizontal", "size": 22, "thickness": 1.2, "color": "black", "opacity": 1}, "encoding": {"x": {"field": "cat", "type": "quantitative"}, "y": {"field": "med", "type": "quantitative"}}},
        {"data": {"name": "excO"}, "mark": {"type": "circle", "size": 9, "color": "black", "opacity": 1}, "encoding": {"x": {"field": "cat", "type": "quantitative"}, "y": {"field": "y", "type": "quantitative"}}},
        {"data": {"name": "excS"}, "mark": {"type": "rule", "color": "black", "strokeWidth": 1}, "encoding": {"x": {"field": "x1", "type": "quantitative"}, "x2": {"field": "x2"}, "y": {"field": "y1", "type": "quantitative"}, "y2": {"field": "y2"}}},
        {"data": {"name": "excT"}, "mark": {"type": "text", "fontSize": 7, "color": "black"}, "encoding": {"x": {"field": "x", "type": "quantitative"}, "y": {"field": "y", "type": "quantitative"}, "text": {"field": "t"}}}
       ]
      }
     ]
    },
    {
     "bounds": "flush",
     "spacing": 106,
     "resolve": {"scale": {"color": "independent", "x": "independent", "y": "independent"}, "legend": {"color": "independent"}},
     "hconcat": [
      {"width": 1, "height": 373, "data": {"values": []}, "mark": "point"},
      {
       "width": 436, "height": 373,
       "view": {"stroke": "black", "strokeWidth": 1.3},
       "title": {"text": "B", "anchor": "start", "frame": "group", "dx": -152, "offset": 5, "fontSize": 22, "fontWeight": "bold", "color": "black"},
       "layer": [
        {"data": {"name": "roc"}, "mark": {"type": "line", "strokeWidth": 3.5, "interpolate": "linear"},
         "encoding": {
          "x": {"field": "fpr", "type": "quantitative", "scale": {"domain": [-0.04, 1.04], "nice": false, "zero": false}, "axis": {"title": "1\u2212Specificity", "values": [0, 0.2, 0.4, 0.6, 0.8, 1], "format": ".1f", "domain": false, "tickSize": 12, "tickWidth": 1.3, "labelFontSize": 16.5, "labelColor": "black", "labelPadding": 15, "titleFontSize": 17, "titlePadding": 22}},
          "y": {"field": "tpr", "type": "quantitative", "scale": {"domain": [-0.04, 1.04], "nice": false, "zero": false}, "axis": {"title": "Sensitivity", "values": [0, 0.2, 0.4, 0.6, 0.8, 1], "format": ".1f", "domain": false, "tickSize": 10, "tickWidth": 1.3, "labelAngle": -90, "labelFontSize": 16.5, "labelColor": "black", "labelPadding": 12, "titleFontSize": 17, "titlePadding": 25}},
          "color": {"field": "m", "type": "nominal", "scale": {"domain": ["Risk, AUC=0.609", "TIDE, AUC=0.446", "TIS, AUC=0.447"], "range": ["#F01818", "#22E022", "#0A0AFF"]}, "legend": {"title": null, "orient": "none", "legendX": 247, "legendY": 303, "symbolType": "M-1.6,0H1.6", "symbolSize": 400, "symbolStrokeWidth": 3.5, "labelFontSize": 16.5, "labelColor": "black", "labelOffset": 20.5, "rowPadding": 0, "labelLimit": 300}},
          "order": {"field": "i", "type": "quantitative"}
         }},
        {"data": {"values": [{"a": -0.04, "b": 1.04}]}, "mark": {"type": "rule", "color": "black", "strokeWidth": 1.3},
         "encoding": {"x": {"field": "a", "type": "quantitative"}, "y": {"field": "a", "type": "quantitative"}, "x2": {"field": "b"}, "y2": {"field": "b"}}}
       ]
      }
     ]
    }
   ]
  },
  {
   "width": 600, "height": 64,
   "encoding": {
    "x": {"datum": 0, "type": "quantitative", "scale": {"domain": [0, 1]}, "axis": null},
    "y": {"field": "line", "type": "quantitative", "scale": {"domain": [1, 4], "reverse": true}, "axis": null},
    "text": {"field": "t"}
   },
   "layer": [
    {"data": {"values": [{"line": 1, "t": "FIGURE 11 |"}]}, "mark": {"type": "text", "align": "left", "baseline": "middle", "dx": -40, "fontSize": 18, "fontWeight": "bold", "color": "#222222"}},
    {"data": {"values": [{"line": 1, "t": "Efficacy prediction of immunotherapy and model"}]}, "mark": {"type": "text", "align": "left", "baseline": "middle", "dx": 68.1, "fontSize": 18, "color": "#222222"}},
    {"data": {"values": [{"line": 2, "t": "comparison."}, {"line": 3, "t": "high and low risk categories. *,"}, {"line": 4, "t": "ROC curves."}]}, "mark": {"type": "text", "align": "left", "baseline": "middle", "dx": -40, "fontSize": 18, "color": "#222222"}},
    {"data": {"values": [{"line": 2, "t": "(A)"}]}, "mark": {"type": "text", "align": "left", "baseline": "middle", "dx": 63, "fontSize": 18, "fontWeight": "bold", "color": "#222222"}},
    {"data": {"values": [{"line": 2, "t": "Violin plots. The comparison of immunotherapy biomarkers in"}]}, "mark": {"type": "text", "align": "left", "baseline": "middle", "dx": 93, "fontSize": 18, "color": "#222222"}},
    {"data": {"values": [{"line": 3, "t": "p"}]}, "mark": {"type": "text", "align": "left", "baseline": "middle", "dx": 209.1, "fontSize": 18, "fontStyle": "italic", "color": "#222222"}},
    {"data": {"values": [{"line": 3, "t": "< 0.05. **,"}]}, "mark": {"type": "text", "align": "left", "baseline": "middle", "dx": 224.1, "fontSize": 18, "color": "#222222"}},
    {"data": {"values": [{"line": 3, "t": "p"}]}, "mark": {"type": "text", "align": "left", "baseline": "middle", "dx": 308.7, "fontSize": 18, "fontStyle": "italic", "color": "#222222"}},
    {"data": {"values": [{"line": 3, "t": "< 0.01. ***,"}]}, "mark": {"type": "text", "align": "left", "baseline": "middle", "dx": 323.7, "fontSize": 18, "color": "#222222"}},
    {"data": {"values": [{"line": 3, "t": "p"}]}, "mark": {"type": "text", "align": "left", "baseline": "middle", "dx": 415.3, "fontSize": 18, "fontStyle": "italic", "color": "#222222"}},
    {"data": {"values": [{"line": 3, "t": "< 0.001."}]}, "mark": {"type": "text", "align": "left", "baseline": "middle", "dx": 430.3, "fontSize": 18, "color": "#222222"}},
    {"data": {"values": [{"line": 3, "t": "(B)"}]}, "mark": {"type": "text", "align": "left", "baseline": "middle", "dx": 500.8, "fontSize": 18, "fontWeight": "bold", "color": "#222222"}},
    {"data": {"values": [{"line": 3, "t": "5-years"}]}, "mark": {"type": "text", "align": "left", "baseline": "middle", "dx": 530.8, "fontSize": 18, "color": "#222222"}}
   ]
  }
 ]
}
